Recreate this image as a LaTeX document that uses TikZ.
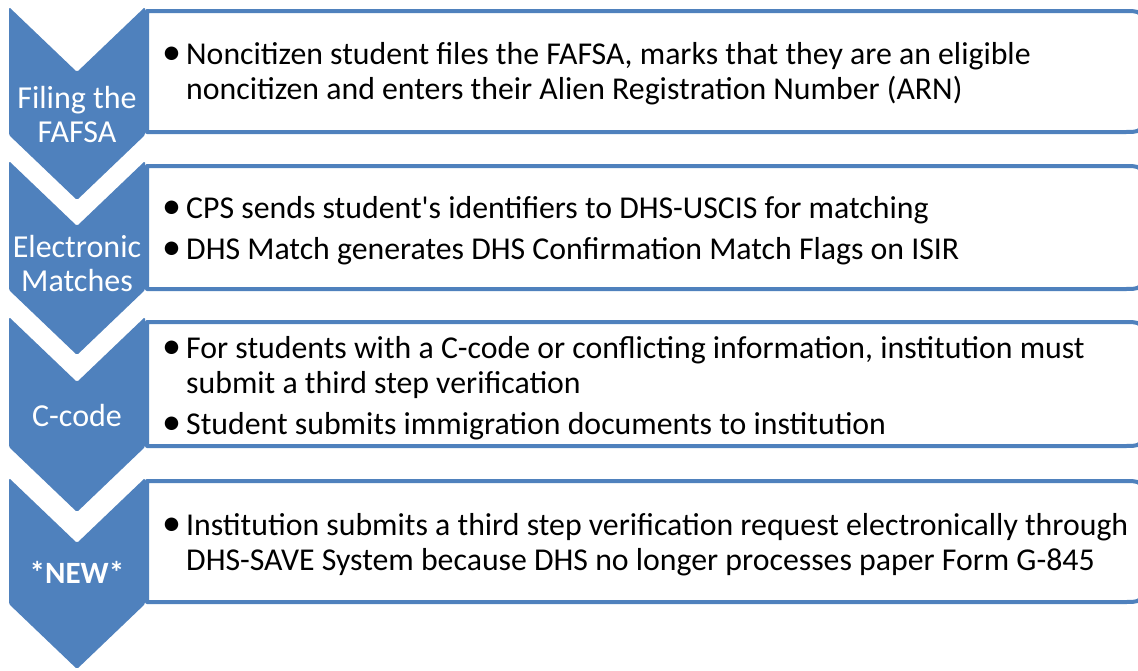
\documentclass[tikz,border=0pt]{standalone}
\usepackage{fontspec}
\setmainfont{Carlito}
\usepackage{tikz}
\usetikzlibrary{positioning}
\definecolor{smartblue}{HTML}{4F81BD}
% one bullet paragraph, hanging under its own text
\newcommand{\bitem}[1]{\par\hangindent=24pt\hangafter=1\noindent\makebox[24pt][l]{\scalebox{1.2}{\textbullet}}#1}
\newenvironment{bulletbox}{\begin{minipage}{990pt}\raggedright\setlength{\parskip}{6pt}}{\end{minipage}}

\begin{document}
\begin{tikzpicture}[x=1pt, y=-1pt,
    chev/.style={fill=smartblue, draw=none, rounded corners=1.5pt},
    panel/.style={draw=smartblue, line width=4pt, fill=white, line join=round},
    chevlabel/.style={text=white, align=center, inner sep=0pt, font=\fontsize{32}{34}\selectfont},
    bullets/.style={anchor=west, inner sep=0pt, font=\fontsize{31.8}{35}\selectfont}]
    \useasboundingbox (0,0) rectangle (1138,670);
    % Panels (right corners rounded, run off the page)
    \fill[white] (0,0) rectangle (1138,670);
    \draw[panel] (147,11) -- (1123,11) .. controls (1142,11) .. (1142,30) -- (1142,113) .. controls (1142,132) .. (1123,132) -- (147,132) -- cycle;
    \draw[panel] (147,166) -- (1123,166) .. controls (1142,166) .. (1142,185) -- (1142,270) .. controls (1142,289) .. (1123,289) -- (147,289) -- cycle;
    \draw[panel] (147,322) -- (1123,322) .. controls (1142,322) .. (1142,341) -- (1142,427) .. controls (1142,446) .. (1123,446) -- (147,446) -- cycle;
    \draw[panel] (147,481) -- (1123,481) .. controls (1142,481) .. (1142,500) -- (1142,583) .. controls (1142,602) .. (1123,602) -- (147,602) -- cycle;
    % Chevrons
    \fill[chev] (9,7) -- (77,72) -- (145,7) -- (145,135) -- (77,200) -- (9,135) -- cycle;
    \fill[chev] (9,161) -- (77,226) -- (145,161) -- (145,290) -- (77,355) -- (9,290) -- cycle;
    \fill[chev] (9,317) -- (77,382) -- (145,317) -- (145,447) -- (77,512) -- (9,447) -- cycle;
    \fill[chev] (9,478) -- (77,543) -- (145,478) -- (145,604) -- (77,669) -- (9,604) -- cycle;
    % Labels
    \node[chevlabel] (filing) at (77,114) {Filing the\\FAFSA};
    \node[chevlabel] (electronic) at (77,264) {Electronic\\Matches};
    \node[chevlabel] (ccode) at (77,415) {C-code};
    \node[chevlabel, font=\fontsize{31}{34}\selectfont\bfseries] (new) at (77,572) {*NEW*};
    % Texts
    \node[bullets] (filingtext) at (162,74) {\begin{bulletbox}\bitem{Noncitizen student files the FAFSA, marks that they are an eligible\newline noncitizen and enters their Alien Registration Number (ARN)}\end{bulletbox}};
    \node[bullets] (electronictext) at (162,231) {\begin{bulletbox}\bitem{CPS sends student\textquotesingle s identifiers to DHS-USCIS for matching}\bitem{DHS Match generates DHS Confirmation Match Flags on ISIR}\end{bulletbox}};
    \node[bullets] (ccodetext) at (162,388) {\begin{bulletbox}\bitem{For students with a C-code or conflicting information, institution must\newline submit a third step verification}\bitem{Student submits immigration documents to institution}\end{bulletbox}};
    \node[bullets] (newtext) at (162,545) {\begin{bulletbox}\bitem{Institution submits a third step verification request electronically through\newline DHS-SAVE System because DHS no longer processes paper Form G-845}\end{bulletbox}};
\end{tikzpicture}
\end{document}
